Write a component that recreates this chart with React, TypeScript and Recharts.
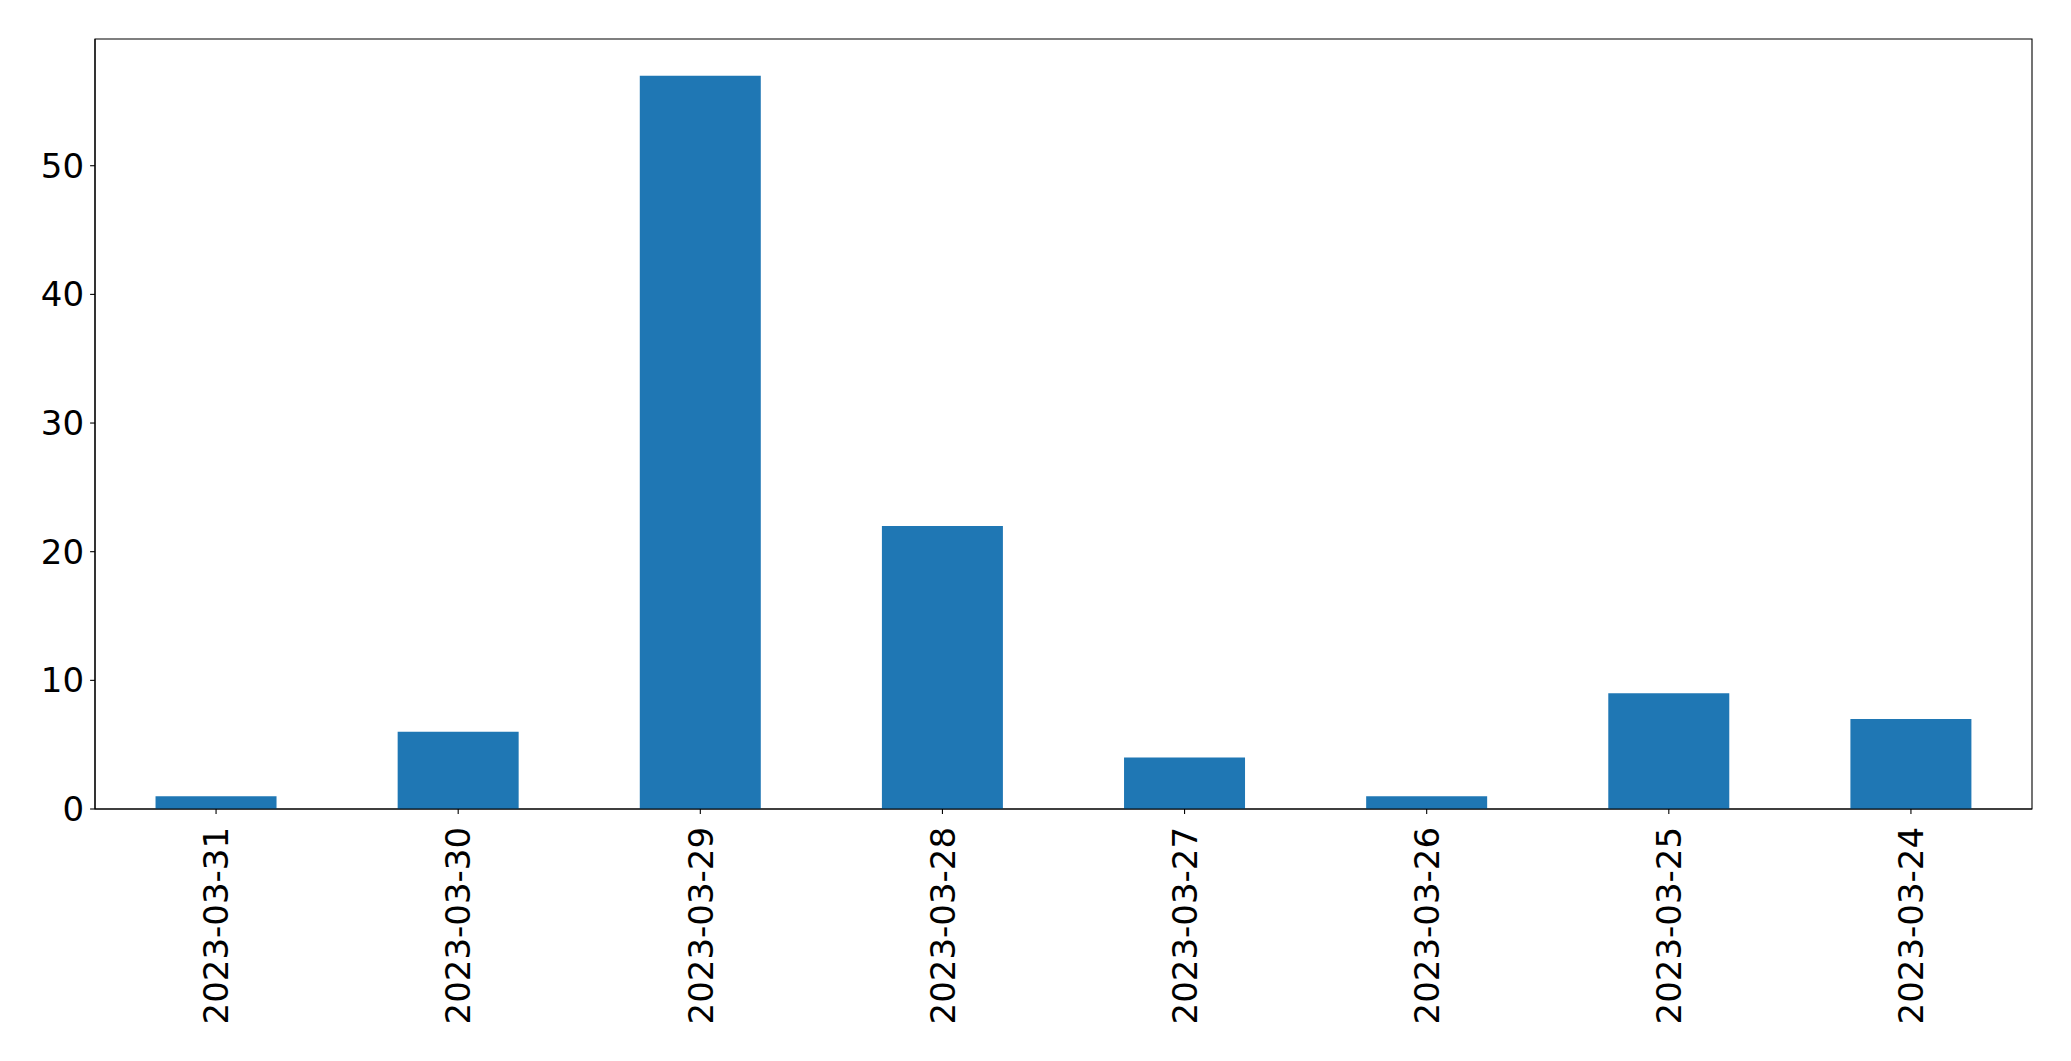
import React from "react";
import { Bar, BarChart, ReferenceArea, XAxis, YAxis } from "recharts";

const dates = [
  "2023-03-31",
  "2023-03-30",
  "2023-03-29",
  "2023-03-28",
  "2023-03-27",
  "2023-03-26",
  "2023-03-25",
  "2023-03-24",
];
const counts = [1, 6, 57, 22, 4, 1, 9, 7];
const yTicks = [0, 10, 20, 30, 40, 50];
const yMax = 59.85;

const W = 2071;
const H = 1061;
const FONT = "DejaVu Sans";
const FS = 34;
const AXIS = "#000000";

const series = dates.map((d, i) => ({ d, v: counts[i] }));

const DateTick = (props: any) => {
  const { x, y, payload } = props;
  return (
    <g transform={`translate(${x},${y + 11}) rotate(-90)`}>
      <text
        x={0}
        y={0}
        dy="0.36em"
        textAnchor="end"
        fontFamily={FONT}
        fontSize={FS}
        fill="#000"
      >
        {payload.value}
      </text>
    </g>
  );
};

const App: React.FC = () => {
  return (
    <div style={{ position: "absolute", left: 0, top: 0, width: W, height: H, background: "#fff" }}>
      <BarChart
        width={W}
        height={H}
        data={series}
        margin={{ top: 39, right: 39, bottom: 0, left: 0 }}
        barCategoryGap="25%"
      >
        <XAxis
          dataKey="d"
          height={252}
          interval={0}
          stroke={AXIS}
          tickSize={4.9}
          tickLine={{ stroke: AXIS, strokeWidth: 1.1 }}
          axisLine={{ stroke: AXIS, strokeWidth: 1.1 }}
          tick={<DateTick />}
        />
        <YAxis
          width={95}
          domain={[0, yMax]}
          ticks={yTicks}
          interval={0}
          stroke={AXIS}
          tickSize={4.9}
          tickMargin={6}
          tickLine={{ stroke: AXIS, strokeWidth: 1.1 }}
          axisLine={{ stroke: AXIS, strokeWidth: 1.1 }}
          tick={{ fontFamily: FONT, fontSize: FS, fill: "#000" }}
        />
        <Bar dataKey="v" fill="#1f77b4" isAnimationActive={false} />
        <ReferenceArea
          y1={0}
          y2={yMax}
          fill="none"
          fillOpacity={0}
          stroke={AXIS}
          strokeWidth={1.1}
          ifOverflow="visible"
        />
      </BarChart>
    </div>
  );
};

export default App;
